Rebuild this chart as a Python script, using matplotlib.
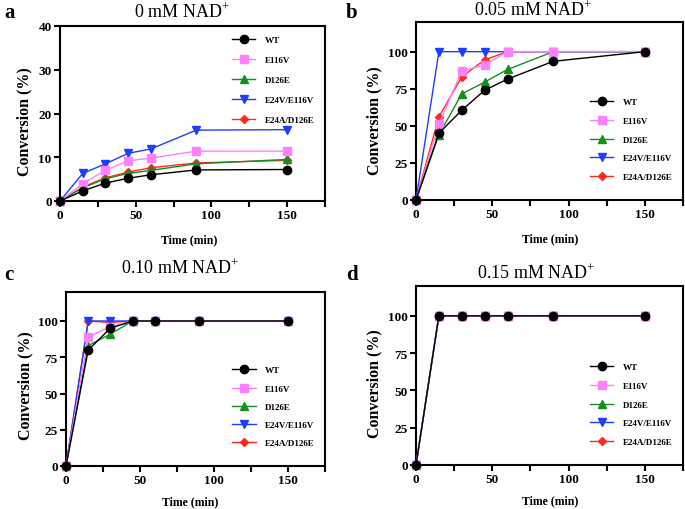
import matplotlib.pyplot as plt

plt.rcParams['font.family'] = ['Liberation Serif', 'DejaVu Serif']
plt.rcParams['mathtext.fontset'] = 'custom'
plt.rcParams['mathtext.rm'] = 'Liberation Serif'

# time points (min)
time = [0, 15, 30, 45, 60, 90, 150]
names = ['WT', 'E116V', 'D126E', 'E24V/E116V', 'E24A/D126E']

# panel a: 0 mM NAD+
a_wt = [0, 2.3, 4.1, 5.2, 6.0, 7.1, 7.2]
a_e116v = [0, 4.0, 7.0, 9.2, 9.8, 11.4, 11.4]
a_d126e = [0, 3.0, 5.1, 6.3, 7.0, 8.5, 9.5]
a_e24v = [0, 6.3, 8.5, 10.9, 11.9, 16.2, 16.3]
a_e24a = [0, 3.2, 5.3, 6.6, 7.6, 8.7, 9.3]

# panel b: 0.05 mM NAD+
b_wt = [0, 45, 60.5, 74, 81.5, 93.5, 100]
b_e116v = [0, 51, 87, 91, 100, 100, 100]
b_d126e = [0, 44, 71.5, 79.5, 88, 100, 100]
b_e24v = [0, 100, 100, 100, 100, 100, 100]
b_e24a = [0, 56, 83, 94.5, 100, 100, 100]

# panel c: 0.10 mM NAD+
c_wt = [0, 80, 95, 100, 100, 100, 100]
c_e116v = [0, 89, 96, 100, 100, 100, 100]
c_d126e = [0, 83, 91, 100, 100, 100, 100]
c_e24v = [0, 100, 100, 100, 100, 100, 100]
c_e24a = [0, 100, 99, 100, 100, 100, 100]

# panel d: 0.15 mM NAD+
d_wt = [0, 100, 100, 100, 100, 100, 100]
d_e116v = [0, 100, 100, 100, 100, 100, 100]
d_d126e = [0, 100, 100, 100, 100, 100, 100]
d_e24v = [0, 100, 100, 100, 100, 100, 100]
d_e24a = [0, 100, 100, 100, 100, 100, 100]

colors = ['black', '#ff80ff', '#14901e', '#1f3dff', '#ff2a1a']
markers = ['o', 's', '^', 'v', 'D']
msizes = [6, 6, 5.5, 5.5, 4]

panels = [
    ('a', '0 mM NAD$^{+}$', [a_wt, a_e116v, a_d126e, a_e24v, a_e24a], 40, [0, 10, 20, 30, 40]),
    ('b', '0.05 mM NAD$^{+}$', [b_wt, b_e116v, b_d126e, b_e24v, b_e24a], 120, [0, 25, 50, 75, 100]),
    ('c', '0.10 mM NAD$^{+}$', [c_wt, c_e116v, c_d126e, c_e24v, c_e24a], 120, [0, 25, 50, 75, 100]),
    ('d', '0.15 mM NAD$^{+}$', [d_wt, d_e116v, d_d126e, d_e24v, d_e24a], 120, [0, 25, 50, 75, 100]),
]
# axes rectangles in pixels: left, top, right, bottom
rects = [(60, 27, 325, 202), (416, 23, 683, 201), (66, 293, 325, 467), (416, 287, 683, 466)]
letter_pos = [(4, 3), (346, 3), (4, 265), (346, 265)]
title_pos = [(182, 12), (533, 10), (180, 268), (536, 273)]
xlabel_pos = [(189, 240), (550, 239), (190, 502), (550, 501)]
ylabel_pos = [(24, 122), (374, 121), (25, 386), (374, 384)]
# legend: (loc, anchor x, anchor y, labelspacing)
legend_opts = [('upper right', 0.99, 0.99, 1.3),
               ('lower right', 0.99, 0.06, 1.15),
               ('lower right', 0.99, 0.06, 1.1),
               ('lower right', 0.99, 0.06, 1.15)]

W, H = 685, 510
fig = plt.figure(figsize=(W / 100, H / 100), dpi=100)

for (letter, title, series, ymax, yticks), (l, t, r, b), (lx, ly), (tx, ty), (xx, xy), (yx, yy), (loc, bx, by, sp) in zip(
        panels, rects, letter_pos, title_pos, xlabel_pos, ylabel_pos, legend_opts):
    ax = fig.add_axes([l / W, 1 - b / H, (r - l) / W, (b - t) / H])
    handles = [None] * 5
    for i in reversed(range(5)):
        h, = ax.plot(time, series[i], color=colors[i], marker=markers[i], markersize=msizes[i],
                     lw=1.0, label=names[i], clip_on=False, zorder=3 + (5 - i))
        handles[i] = h
    ax.set_xlim(0, 175)
    ax.set_ylim(0, ymax)
    ax.set_xticks([0, 50, 100, 150])
    ax.set_xticks([25, 75, 125, 175], minor=True)
    ax.set_yticks(yticks)
    for s in ['top', 'right', 'left', 'bottom']:
        ax.spines[s].set_linewidth(1.5)
    ax.tick_params(which='both', direction='out', length=4, width=1.5, labelsize=9.5, pad=2)
    for lab in ax.get_xticklabels() + ax.get_yticklabels():
        lab.set_fontweight('bold')
    ax.legend(handles=handles, loc=loc, bbox_to_anchor=(bx, by), frameon=False,
              prop={'weight': 'bold', 'size': 6.5}, labelspacing=sp, handlelength=2.6,
              handletextpad=1.0)
    fig.text(xx / W, 1 - xy / H, 'Time (min)', fontsize=8.5, fontweight='bold', ha='center', va='center')
    fig.text(yx / W, 1 - yy / H, 'Conversion (%)', fontsize=11.5, fontweight='bold',
             rotation=90, ha='center', va='center')
    fig.text(tx / W, 1 - ty / H, title, fontsize=13, ha='center', va='center')
    fig.text(lx / W, 1 - ly / H, letter, fontsize=15, fontweight='bold', va='top', ha='left')

fig.savefig('out.png', dpi=100)
